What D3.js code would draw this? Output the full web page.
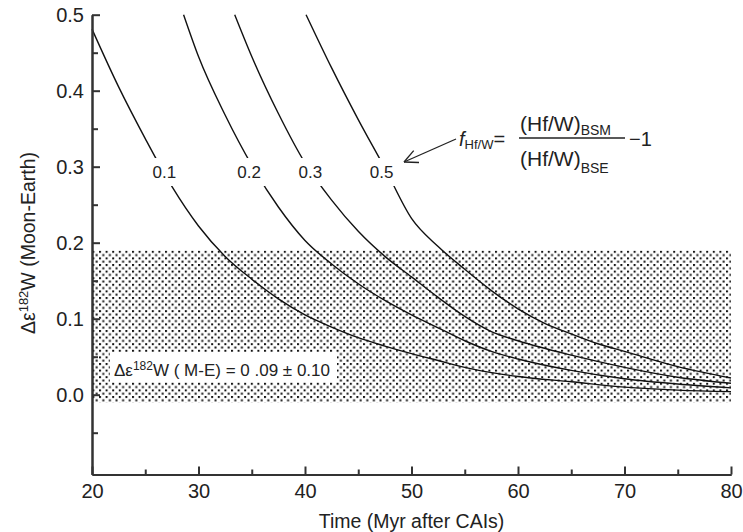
<!DOCTYPE html>
<html>
<head>
<meta charset="utf-8">
<script src="https://cdn.jsdelivr.net/npm/d3@7"></script>
<style>
  body { margin: 0; background: #fff; }
  svg text { font-family: "Liberation Sans", Arial, sans-serif; fill: #222; }
</style>
</head>
<body>
<div id="content"></div>
<script>
// fractionation factor labels and curve values [time Myr, delta eps]
var fLabels = ["0.1", "0.2", "0.3", "0.5"];
var curve01 = [[20, 0.481], [22.5, 0.405], [25, 0.337], [27.5, 0.274], [30, 0.222], [32.5, 0.182], [35, 0.152],
    [37.5, 0.126], [40, 0.105], [42.5, 0.089], [45, 0.075], [47.5, 0.064], [50, 0.054], [52.5, 0.045], [55, 0.036],
    [57.5, 0.029], [60, 0.024], [65, 0.017], [70, 0.010], [75, 0.006], [80, 0.004]];
var curve02 = [[28.6, 0.5], [30, 0.445], [32.5, 0.368], [35, 0.302], [37.5, 0.247], [40, 0.203], [42.5, 0.172],
    [45, 0.146], [47.5, 0.124], [50, 0.105], [52.5, 0.088], [55, 0.071], [57.5, 0.057], [60, 0.047], [65, 0.032],
    [70, 0.021], [75, 0.014], [80, 0.009]];
var curve03 = [[33.4, 0.5], [35, 0.445], [37.5, 0.37], [40, 0.305], [42.5, 0.256], [45, 0.215], [47.5, 0.182],
    [50, 0.155], [52.5, 0.128], [55, 0.103], [57.5, 0.083], [60, 0.071], [65, 0.052], [70, 0.036], [75, 0.023],
    [80, 0.015]];
var curve05 = [[40.1, 0.5], [42.5, 0.43], [45, 0.362], [47.5, 0.298], [50, 0.232], [52.5, 0.195], [55, 0.165],
    [57.5, 0.137], [60, 0.113], [62.5, 0.094], [65, 0.08], [67.5, 0.067], [70, 0.057], [75, 0.037], [80, 0.022]];
// where the f labels sit on each curve [time, value]
var labelPos = [[26.8, 0.293], [34.75, 0.293], [40.5, 0.293], [47.2, 0.293]];
// measured Moon-Earth difference: 0.09 +/- 0.10
var bandLow = -0.01, bandHigh = 0.19;
var xTicks = [20, 30, 40, 50, 60, 70, 80];
var xMinor = [25, 35, 45, 55, 65, 75];
var yTicks = [0.0, 0.1, 0.2, 0.3, 0.4, 0.5];
var yMinor = [-0.05, 0.05, 0.15, 0.25, 0.35, 0.45];

var W = 743, H = 532;
var x = d3.scaleLinear().domain([20, 80]).range([92, 731]);
var y = d3.scaleLinear().domain([-0.105, 0.5]).range([474.5, 14.7]);

var svg = d3.select("#content").append("svg")
    .attr("width", W).attr("height", H);

// dotted fill for the band
var pat = svg.append("defs").append("pattern")
    .attr("id", "dots").attr("patternUnits", "userSpaceOnUse")
    .attr("width", 6.6).attr("height", 6.6);
pat.append("rect").attr("x", 0).attr("y", 0).attr("width", 2).attr("height", 2).attr("fill", "#111");
pat.append("rect").attr("x", 3.3).attr("y", 3.3).attr("width", 2).attr("height", 2).attr("fill", "#111");

svg.append("rect")
    .attr("x", x(20)).attr("width", x(80) - x(20))
    .attr("y", y(bandHigh)).attr("height", y(bandLow) - y(bandHigh))
    .attr("fill", "url(#dots)");

// curves
var line = d3.line()
    .x(function (d) { return x(d[0]); })
    .y(function (d) { return y(d[1]); })
    .curve(d3.curveMonotoneX);

[curve01, curve02, curve03, curve05].forEach(function (c) {
    svg.append("path").datum(c)
        .attr("d", line)
        .attr("fill", "none")
        .attr("stroke", "#111")
        .attr("stroke-width", 1.4);
});

// curve labels, with a white gap in the line
labelPos.forEach(function (p, i) {
    var g = svg.append("g").attr("transform", "translate(" + x(p[0]) + "," + y(p[1]) + ")");
    g.append("rect").attr("x", -16).attr("y", -14).attr("width", 32).attr("height", 28).attr("fill", "#fff");
    g.append("text").attr("text-anchor", "middle").attr("dy", "0.35em")
        .style("font-size", "17px").text(fLabels[i]);
});

// band annotation
var ann = svg.append("g");
ann.append("rect").attr("x", 110).attr("y", 352).attr("width", 227).attr("height", 30).attr("fill", "#fff");
var at = ann.append("text").attr("x", 114).attr("y", 376).style("font-size", "17px");
at.append("tspan").text("\u0394\u03b5");
at.append("tspan").attr("dy", -6).style("font-size", "12px").text("182");
at.append("tspan").attr("dy", 6).text("W ( M-E) = 0 .09 \u00b1 0.10");

// axes
var axisColor = "#333";
var gx = svg.append("g").attr("transform", "translate(0," + y.range()[0] + ")");
gx.call(d3.axisBottom(x).tickValues(xMinor).tickSize(-5).tickSizeOuter(0).tickFormat(""));
var gx2 = svg.append("g").attr("transform", "translate(0," + y.range()[0] + ")");
gx2.call(d3.axisBottom(x).tickValues(xTicks).tickSize(-8).tickSizeOuter(0).tickPadding(9).tickFormat(d3.format("d")));

var gy = svg.append("g").attr("transform", "translate(" + x.range()[0] + ",0)");
gy.call(d3.axisLeft(y).tickValues(yMinor).tickSize(-6).tickSizeOuter(0).tickFormat(""));
var gy2 = svg.append("g").attr("transform", "translate(" + x.range()[0] + ",0)");
gy2.call(d3.axisLeft(y).tickValues(yTicks).tickSize(-8).tickSizeOuter(0).tickPadding(8).tickFormat(d3.format(".1f")));

svg.selectAll(".domain, .tick line").attr("stroke", axisColor).attr("stroke-width", 2);
svg.selectAll(".tick text").style("font-size", "20px").attr("fill", "#222")
    .style("font-family", "'Liberation Sans', Arial, sans-serif");

// axis titles
svg.append("text").attr("x", (x(20) + x(80)) / 2).attr("y", 528)
    .attr("text-anchor", "middle").style("font-size", "19.5px")
    .text("Time (Myr after CAIs)");

var yt = svg.append("text")
    .attr("transform", "translate(35,243) rotate(-90)")
    .attr("text-anchor", "middle").style("font-size", "19.5px");
yt.append("tspan").text("\u0394\u03b5");
yt.append("tspan").attr("dy", -7).style("font-size", "13px").text("182");
yt.append("tspan").attr("dy", 7).text("W (Moon-Earth)");

// formula for f
var fm = svg.append("g");
var ft = fm.append("text").attr("x", 459).attr("y", 146).style("font-size", "20px");
ft.append("tspan").style("font-style", "italic").text("f");
ft.append("tspan").attr("dy", 3).style("font-size", "13px").text("Hf/W");
ft.append("tspan").attr("dy", -3).text("=");
var num = fm.append("text").attr("x", 520).attr("y", 131).style("font-size", "21px");
num.append("tspan").text("(Hf/W)");
num.append("tspan").attr("dy", 4).style("font-size", "14px").text("BSM");
fm.append("line").attr("x1", 519).attr("x2", 625).attr("y1", 138).attr("y2", 138)
    .attr("stroke", "#222").attr("stroke-width", 1.3);
var den = fm.append("text").attr("x", 520).attr("y", 166).style("font-size", "21px");
den.append("tspan").text("(Hf/W)");
den.append("tspan").attr("dy", 7).style("font-size", "14px").text("BSE");
fm.append("text").attr("x", 629).attr("y", 146).style("font-size", "20px").text("\u22121");

// arrow pointing at the 0.5 label
var tip = [404, 162], tail = [456, 139];
var ang = Math.atan2(tail[1] - tip[1], tail[0] - tip[0]);
fm.append("line").attr("x1", tail[0]).attr("y1", tail[1]).attr("x2", tip[0]).attr("y2", tip[1])
    .attr("stroke", "#222").attr("stroke-width", 1.3);
[-0.45, 0.45].forEach(function (da) {
    fm.append("line").attr("x1", tip[0]).attr("y1", tip[1])
        .attr("x2", tip[0] + 15 * Math.cos(ang + da)).attr("y2", tip[1] + 15 * Math.sin(ang + da))
        .attr("stroke", "#222").attr("stroke-width", 1.3);
});
</script>
</body>
</html>
